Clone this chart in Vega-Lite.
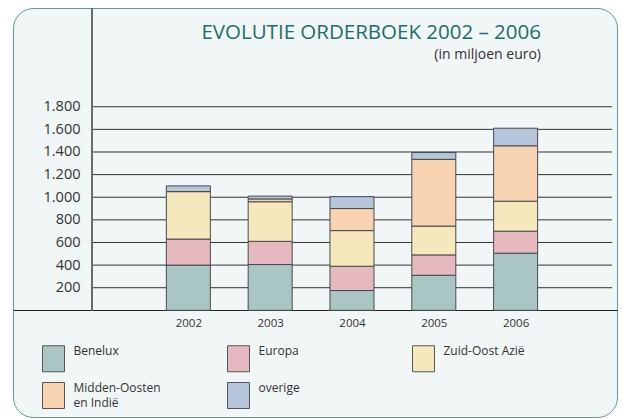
{
  "$schema": "https://vega.github.io/schema/vega-lite/v6.json",
  "width": 604,
  "height": 409,
  "autosize": {"type": "none"},
  "padding": {"left": 13, "top": 8, "right": 6, "bottom": 2},
  "background": "#ffffff",
  "config": {
    "locale": {"number": {"decimal": ",", "thousands": ".", "grouping": [3], "currency": ["€", ""]}},
    "view": {"fill": "#f1f6f7", "stroke": "#5a9b98", "strokeWidth": 1, "cornerRadius": 20},
    "font": "Open Sans",
    "axis": {"grid": false, "ticks": false, "title": null}
  },
  "title": {
    "text": "EVOLUTIE ORDERBOEK 2002 – 2006",
    "subtitle": "(in miljoen euro)",
    "anchor": "end",
    "frame": "group",
    "orient": "top",
    "offset": 0,
    "dx": -76,
    "dy": 55,
    "font": "Open Sans",
    "fontSize": 20.5,
    "fontWeight": "normal",
    "color": "#1f6e6c",
    "subtitleFont": "Open Sans",
    "subtitleFontSize": 14,
    "subtitleColor": "#333333",
    "subtitlePadding": 5
  },
  "datasets": {
    "grid": [{"v": 200}, {"v": 400}, {"v": 600}, {"v": 800}, {"v": 1000}, {"v": 1200}, {"v": 1400}, {"v": 1600}, {"v": 1800}],
    "orders": [
      {"jaar": 2002, "regio": "Benelux", "k": 1, "waarde": 400},
      {"jaar": 2002, "regio": "Europa", "k": 2, "waarde": 230},
      {"jaar": 2002, "regio": "Zuid-Oost Azië", "k": 3, "waarde": 420},
      {"jaar": 2002, "regio": "Midden-Oosten en Indië", "k": 4, "waarde": 0},
      {"jaar": 2002, "regio": "overige", "k": 5, "waarde": 50},
      {"jaar": 2003, "regio": "Benelux", "k": 1, "waarde": 405},
      {"jaar": 2003, "regio": "Europa", "k": 2, "waarde": 205},
      {"jaar": 2003, "regio": "Zuid-Oost Azië", "k": 3, "waarde": 350},
      {"jaar": 2003, "regio": "Midden-Oosten en Indië", "k": 4, "waarde": 25},
      {"jaar": 2003, "regio": "overige", "k": 5, "waarde": 25},
      {"jaar": 2004, "regio": "Benelux", "k": 1, "waarde": 175},
      {"jaar": 2004, "regio": "Europa", "k": 2, "waarde": 215},
      {"jaar": 2004, "regio": "Zuid-Oost Azië", "k": 3, "waarde": 315},
      {"jaar": 2004, "regio": "Midden-Oosten en Indië", "k": 4, "waarde": 195},
      {"jaar": 2004, "regio": "overige", "k": 5, "waarde": 105},
      {"jaar": 2005, "regio": "Benelux", "k": 1, "waarde": 310},
      {"jaar": 2005, "regio": "Europa", "k": 2, "waarde": 180},
      {"jaar": 2005, "regio": "Zuid-Oost Azië", "k": 3, "waarde": 255},
      {"jaar": 2005, "regio": "Midden-Oosten en Indië", "k": 4, "waarde": 590},
      {"jaar": 2005, "regio": "overige", "k": 5, "waarde": 60},
      {"jaar": 2006, "regio": "Benelux", "k": 1, "waarde": 505},
      {"jaar": 2006, "regio": "Europa", "k": 2, "waarde": 195},
      {"jaar": 2006, "regio": "Zuid-Oost Azië", "k": 3, "waarde": 265},
      {"jaar": 2006, "regio": "Midden-Oosten en Indië", "k": 4, "waarde": 490},
      {"jaar": 2006, "regio": "overige", "k": 5, "waarde": 155}
    ]
  },
  "layer": [
    {
      "data": {"name": "grid"},
      "mark": {"type": "rule", "color": "#333333", "strokeWidth": 1},
      "encoding": {
        "y": {"field": "v", "type": "quantitative", "title": null, "scale": {"domain": [-943, 2673], "nice": false, "zero": false}},
        "x": {"datum": 2000.823, "type": "quantitative", "scale": {"domain": [1999.918, 2007.178], "nice": false, "zero": false}},
        "x2": {"datum": 2007.178}
      }
    },
    {
      "data": {"name": "grid"},
      "mark": {"type": "rule", "color": "#6b6b6b", "strokeWidth": 1.5},
      "encoding": {
        "x": {"datum": 2000.823, "type": "quantitative"},
        "y": {"datum": 0, "type": "quantitative"},
        "y2": {"datum": 2673}
      }
    },
    {
      "data": {"name": "orders"},
      "mark": {"type": "bar", "size": 44, "stroke": "#4a4a4a", "strokeWidth": 1},
      "encoding": {
        "x": {"field": "jaar", "type": "quantitative", "title": null,
              "scale": {"domain": [1999.918, 2007.178], "nice": false, "zero": false},
              "axis": {"values": [2002, 2003, 2004, 2005, 2006], "format": "d", "offset": -107, "domainColor": "#222222", "labelPadding": 7, "labelFontSize": 11.5, "labelColor": "#333333", "labelFont": "Open Sans"}},
        "y": {"field": "waarde", "type": "quantitative", "stack": "zero", "title": null,
              "scale": {"domain": [-943, 2673], "nice": false, "zero": false},
              "axis": {"values": [200, 400, 600, 800, 1000, 1200, 1400, 1600, 1800], "format": ",d", "offset": -75, "domain": false, "labelPadding": 8, "labelFontSize": 14.5, "labelColor": "#333333", "labelFont": "Open Sans"}},
        "order": {"field": "k", "type": "quantitative"},
        "color": {
          "field": "regio", "type": "nominal",
          "scale": {
            "domain": ["Benelux", "Europa", "Zuid-Oost Azië", "Midden-Oosten en Indië", "overige"],
            "range": ["#a9c6c5", "#e5b9bf", "#f5e8bd", "#f7d3b1", "#b4c5dc"]
          },
          "legend": {
            "orient": "none", "legendX": 27, "legendY": 337,
            "direction": "horizontal", "columns": 3, "title": null,
            "symbolType": "M-0.846,-1H0.846V1H-0.846Z", "symbolSize": 676,
            "symbolStrokeColor": "#555555", "symbolStrokeWidth": 1, "symbolOpacity": 1,
            "labelFontSize": 12, "labelColor": "#333333", "labelFont": "Open Sans",
            "labelOffset": 6.5, "columnPadding": 64, "rowPadding": 6, "gridAlign": "all",
            "padding": 0, "labelLimit": 200, "labelBaseline": "top",
            "labelExpr": "datum.label == 'Midden-Oosten en Indië' ? ['Midden-Oosten', 'en Indië'] : datum.label",
            "encode": {"labels": {"update": {"dy": {"value": -13}, "lineHeight": {"value": 15}}}}
          }
        }
      }
    }
  ]
}
